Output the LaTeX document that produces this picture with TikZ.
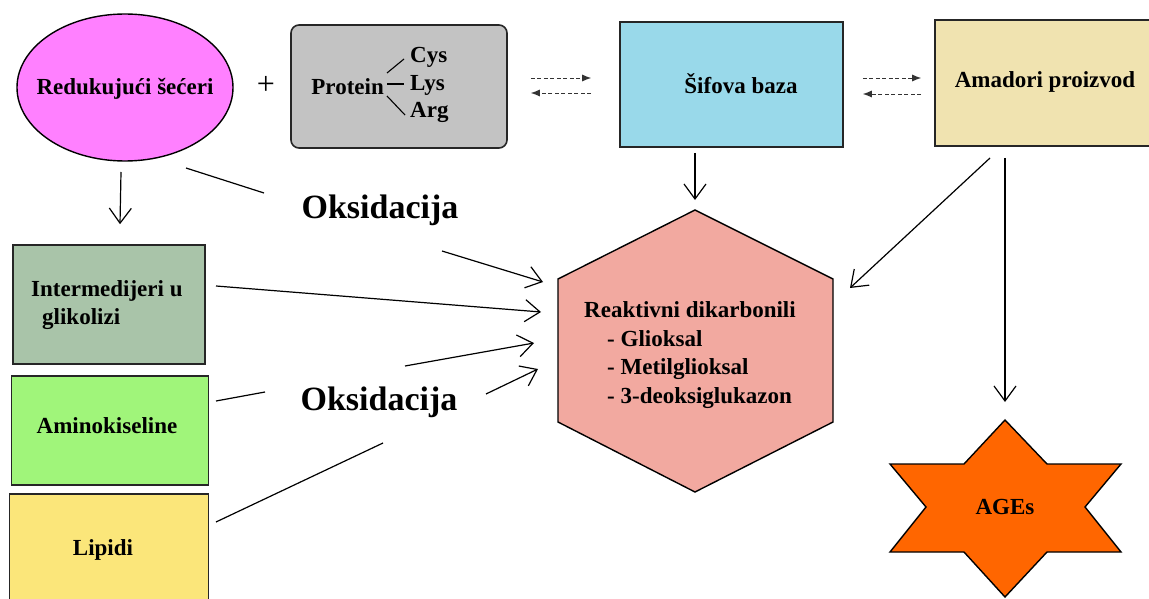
\documentclass[tikz,border=0pt]{standalone}
\usepackage{fontspec}
\setmainfont{Liberation Serif}
\usetikzlibrary{arrows.meta,shapes.geometric}
\definecolor{cEll}{HTML}{FF80FF}
\definecolor{cProt}{HTML}{C3C3C3}
\definecolor{cSif}{HTML}{99D9EA}
\definecolor{cAma}{HTML}{F0E3B0}
\definecolor{cHex}{HTML}{F2A9A0}
\definecolor{cInt}{HTML}{A9C4A9}
\definecolor{cAmi}{HTML}{A0F57A}
\definecolor{cLip}{HTML}{FBE67A}
\definecolor{cAge}{HTML}{FF6600}
\newcommand\lbf{\fontsize{23}{28.5}\selectfont\bfseries}
\newcommand\obf{\fontsize{34}{40}\selectfont\bfseries}
\tikzset{
  lbl/.style={font=\lbf, inner sep=0pt},
  boxnode/.style={draw=black!85, line width=1.6pt, font=\lbf, inner sep=0pt},
  arr/.style={line width=1.2pt, -{Straight Barb[length=15pt,width=22pt]}},
  plain/.style={line width=1.2pt},
  dsh/.style={line width=0.9pt, black!80, dash pattern=on 4pt off 2.5pt, -{Latex[length=9pt,width=7pt]}},
  oks/.style={font=\obf, inner sep=0pt},
  twig/.style={line width=1.1pt}
}
\begin{document}
\begin{tikzpicture}[x=1pt,y=-1pt]
\useasboundingbox (0,0) rectangle (1149,599);
% nodes
\node[ellipse, draw, line width=1.4pt, fill=cEll, minimum width=216pt, minimum height=147pt, inner sep=0pt] (ell) at (125,87.5) {};
\node[lbl] (elltxt) at (125,89) {Redukujući šećeri};
\node[inner sep=0pt, font=\fontsize{32}{36}\selectfont] (plus) at (266,85) {+};
\node[boxnode, fill=cProt, rounded corners=8pt, minimum width=216pt, minimum height=123pt] (prot) at (399,86.5) {};
\node[lbl, anchor=east] (ptxt) at (384,87) {Protein};
\node[lbl, anchor=west] (cys) at (410,57) {Cys};
\node[lbl, anchor=west] (lys) at (410,85) {Lys};
\node[lbl, anchor=west] (arg) at (410,112) {Arg};
\draw[twig] ([shift={(3,-14)}]ptxt.east) -- ([shift={(-6,2)}]cys.west);
\draw[twig] ([shift={(3,-3)}]ptxt.east) -- ([shift={(-6,-1)}]lys.west);
\draw[twig] ([shift={(3,9)}]ptxt.east) -- ([shift={(-5,3)}]arg.west);
\node[boxnode, fill=cSif, minimum width=223pt, minimum height=125pt] (sif) at (731.5,84.5) {};
\node[lbl] (siftxt) at (741,84) {Šifova baza};
\node[boxnode, fill=cAma, minimum width=225pt, minimum height=126pt] (ama) at (1047.5,83) {};
\node[lbl] (amatxt) at (1045,82) {Amadori proizvod};
\node[boxnode, fill=cInt, minimum width=192pt, minimum height=119pt] (inter) at (109,304.5) {};
\node[lbl, align=left, anchor=north west] (inttxt) at (31,280) {Intermedijeri u\\\hspace{11pt}glikolizi};
\node[boxnode, fill=cAmi, minimum width=197pt, minimum height=109pt] (amino) at (110,430.5) {};
\node[lbl] (amitxt) at (107,426) {Aminokiseline};
\node[boxnode, fill=cLip, minimum width=199pt, minimum height=112pt] (lip) at (109,550) {};
\node[lbl] (liptxt) at (103,550) {Lipidi};
% hexagon
\coordinate (hT) at (695,210);
\coordinate (hUR) at (833,279);
\coordinate (hLR) at (833,422);
\coordinate (hB) at (695,492);
\coordinate (hLL) at (558,422);
\coordinate (hUL) at (558,279);
\draw[line width=1.4pt, fill=cHex] (hT) -- (hUR) -- (hLR) -- (hB) -- (hLL) -- (hUL) -- cycle;
\node[lbl, align=left] (hex) at (690,355) {Reaktivni dikarbonili\\\hspace{23pt}- Glioksal\\\hspace{23pt}- Metilglioksal\\\hspace{23pt}- 3-deoksiglukazon};
% star
\coordinate (sT) at (1005,420);
\draw[line width=1.4pt, fill=cAge] (sT) -- (1047,464) -- (1121,464) -- (1085,507) -- (1121,552) -- (1047,552) -- (1005,597) -- (964,552) -- (890,552) -- (926,507) -- (890,464) -- (964,464) -- cycle;
\node[lbl] (ages) at (1005,507) {AGEs};
% labels
\node[oks] (ox1) at (380,210) {Oksidacija};
\node[oks] (ox2) at (379,402) {Oksidacija};
% dashed equilibrium arrows
\draw[dsh] ([shift={(23,-8.5)}]prot.east) -- ([shift={(-28,-6.5)}]sif.west);
\draw[dsh] ([shift={(-28,8.5)}]sif.west) -- ([shift={(23,6.5)}]prot.east);
\draw[dsh] ([shift={(19,-6.5)}]sif.east) -- ([shift={(-13,-5)}]ama.west);
\draw[dsh] ([shift={(-13,11)}]ama.west) -- ([shift={(19,9.5)}]sif.east);
% coordinates at the gaps and arrow ends
\coordinate (g1a) at (264,193);
\coordinate (g1b) at (442,251);
\coordinate (t1) at (543,282);
\coordinate (t2) at (541,312);
\coordinate (g3a) at (265,392);
\coordinate (g3b) at (405,366);
\coordinate (t3) at (534,343);
\coordinate (g4a) at (383,443);
\coordinate (g4b) at (486,394);
\coordinate (t4) at (538,369);
\coordinate (t5) at (850,288);
% solid arrows
\draw[arr] ([shift={(-4,84.5)}]ell.center) -- ([shift={(11,-20)}]inter.north);
\draw[plain] ([shift={(61,80.5)}]ell.center) -- (g1a);
\draw[arr] (g1b) -- (t1);
\draw[arr] ([shift={(107,-18.5)}]inter.center) -- (t2);
\draw[plain] ([shift={(106,-29.5)}]amino.center) -- (g3a);
\draw[arr] (g3b) -- (t3);
\draw[plain] ([shift={(107,-28)}]lip.center) -- (g4a);
\draw[arr] (g4b) -- (t4);
\draw[arr] ([shift={(-36.5,68.5)}]sif.center) -- ([shift={(0,-10)}]hT);
\draw[arr] ([shift={(-57.5,75)}]ama.center) -- (t5);
\draw[arr] ([shift={(-42.5,75)}]ama.center) -- ([shift={(0,-18)}]sT);
\end{tikzpicture}
\end{document}
